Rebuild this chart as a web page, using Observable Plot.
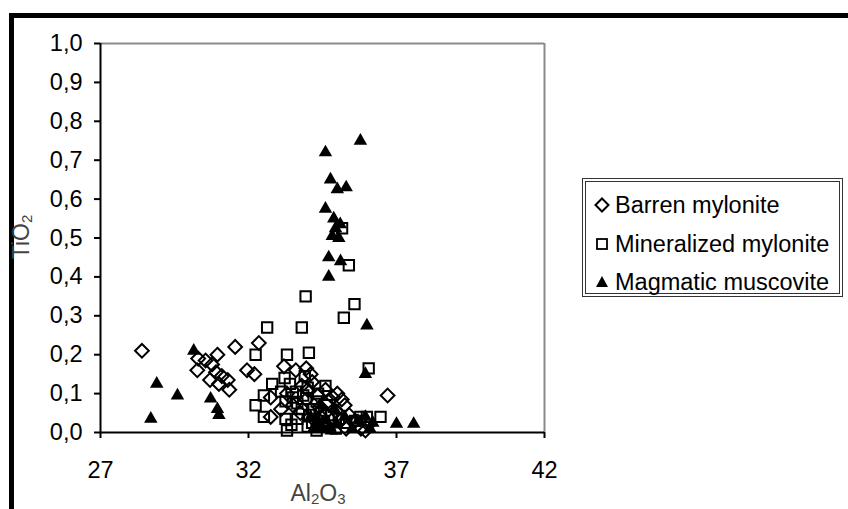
<!DOCTYPE html>
<html><head><meta charset="utf-8">
<script src="https://cdn.jsdelivr.net/npm/d3@7"></script>
<script src="https://cdn.jsdelivr.net/npm/@observablehq/plot@0.6"></script>
<style>
body{margin:0;background:#fff;}
#wrap{position:relative;width:848px;height:509px;overflow:hidden;font-family:"Liberation Sans",Arial,sans-serif;background:#fff;}
#border{position:absolute;left:9px;top:13px;width:900px;height:600px;border-top:5px solid #000;border-left:5px solid #000;}
#chart{position:absolute;left:0;top:0;}
.title{position:absolute;color:#444;font-size:23px;white-space:nowrap;}
.title sub{font-size:15px;vertical-align:-3px;line-height:0;}
#xt{left:318px;top:493px;transform:translate(-50%,-50%);}
#yt{left:21px;top:237px;transform:translate(-50%,-50%) rotate(-90deg);}
#legend{position:absolute;left:582px;top:178px;width:253px;height:111px;border:4px double #333;}
.item{position:absolute;left:8px;height:24px;display:flex;align-items:center;font-size:23.5px;color:#000;white-space:nowrap;}
.item svg{margin-right:5px;}
</style>
</head><body>
<div id="wrap">
  <div id="border"></div>
  <div id="chart"></div>
  <div class="title" id="xt">Al<sub>2</sub>O<sub>3</sub></div>
  <div class="title" id="yt">TiO<sub>2</sub></div>
  <div id="legend">
    <div class="item" style="top:11px"><svg width="16" height="16"><path d="M8,1.5L14.5,8L8,14.5L1.5,8Z" fill="none" stroke="#000" stroke-width="2"/></svg>Barren mylonite</div>
    <div class="item" style="top:50px"><svg width="16" height="16"><rect x="3" y="3" width="10" height="10" fill="none" stroke="#000" stroke-width="1.8"/></svg>Mineralized mylonite</div>
    <div class="item" style="top:88px"><svg width="16" height="16"><path d="M8,2L14,13L2,13Z" fill="#000"/></svg>Magmatic muscovite</div>
  </div>
</div>
<script>
// Axis ticks
const xTicks = [27, 32, 37, 42];
const yTicks = [0, 0.1, 0.2, 0.3, 0.4, 0.5, 0.6, 0.7, 0.8, 0.9, 1.0];

// Barren mylonite (Al2O3, TiO2)
const barrenAl = [28.4, 31.55, 32.35, 30.95, 30.55, 30.3, 30.77, 30.27, 30.9, 31.1, 30.7, 31.3, 31.0, 31.35, 31.95, 32.2, 33.2, 32.75, 32.75, 36.7,
  33.6, 33.95, 34.15, 34.35, 34.6, 34.85, 35.0, 35.15, 35.25, 34.95, 34.6, 34.25, 33.75, 33.5, 33.95, 34.5, 35.3, 35.8, 36.05, 35.6, 35.4, 33.3, 33.1, 34.0, 34.4, 35.95,
  34.1, 34.7, 33.8, 34.45, 35.1];
const barrenTi = [0.21, 0.22, 0.23, 0.20, 0.185, 0.19, 0.175, 0.16, 0.155, 0.145, 0.135, 0.135, 0.125, 0.11, 0.16, 0.15, 0.17, 0.09, 0.04, 0.095,
  0.16, 0.165, 0.13, 0.095, 0.11, 0.09, 0.10, 0.085, 0.07, 0.055, 0.05, 0.03, 0.05, 0.07, 0.085, 0.02, 0.01, 0.01, 0.02, 0.03, 0.045, 0.10, 0.06, 0.11, 0.065, 0.005,
  0.15, 0.08, 0.12, 0.04, 0.03];

// Mineralized mylonite
const minerAl = [32.63, 33.93, 33.8, 35.58, 35.22, 35.39, 35.16, 32.24, 33.3, 34.04, 36.06, 32.8, 32.52, 32.24, 32.52, 33.25, 33.25, 33.3, 36.46, 35.78,
  33.22, 33.4, 33.6, 33.65, 33.8, 34.05, 33.65, 34.0, 34.55, 34.8, 34.65, 34.3, 34.0, 34.35, 33.45, 34.3, 34.95, 35.3, 35.6, 36.0, 33.1, 33.9, 34.6, 35.05, 34.2,
  33.5, 34.15, 33.85, 34.45];
const minerTi = [0.27, 0.35, 0.27, 0.33, 0.295, 0.43, 0.525, 0.20, 0.20, 0.205, 0.165, 0.125, 0.095, 0.07, 0.04, 0.035, 0.08, 0.005, 0.04, 0.04,
  0.14, 0.125, 0.105, 0.075, 0.06, 0.045, 0.035, 0.015, 0.03, 0.045, 0.07, 0.08, 0.115, 0.10, 0.02, 0.005, 0.01, 0.025, 0.03, 0.04, 0.105, 0.145, 0.12, 0.035, 0.06,
  0.09, 0.025, 0.095, 0.05];

// Magmatic muscovite
const magmaAl = [28.7, 28.9, 29.6, 30.15, 30.72, 30.95, 31.0, 35.78, 34.6, 34.77, 35.0, 35.3, 34.6, 34.88, 34.94, 34.83, 35.05, 35.1, 34.71, 35.11, 34.71,
  36.0, 35.95, 37.0, 37.58, 34.1, 34.3, 34.5, 34.8, 35.0, 35.25, 35.5, 35.7, 35.95, 36.2, 34.6, 34.9, 34.45, 36.1, 34.2, 34.75];
const magmaTi = [0.035, 0.125, 0.095, 0.21, 0.087, 0.06, 0.045, 0.75, 0.72, 0.65, 0.625, 0.63, 0.575, 0.55, 0.525, 0.505, 0.50, 0.535, 0.45, 0.44, 0.40,
  0.275, 0.15, 0.022, 0.022, 0.04, 0.02, 0.01, 0.005, 0.02, 0.04, 0.01, 0.03, 0.04, 0.025, 0.03, 0.06, 0.07, 0.01, 0.01, 0.015];

const rows = (al, ti) => al.map((a, i) => ({x: a, y: ti[i]}));
const barren = rows(barrenAl, barrenTi);
const miner = rows(minerAl, minerTi);
const magma = rows(magmaAl, magmaTi);

const fmt = d => d.toFixed(1).replace(".", ",");

const plot = Plot.plot({
  width: 848, height: 509,
  marginLeft: 100, marginRight: 304, marginTop: 43, marginBottom: 77,
  x: {domain: [27, 42]},
  y: {domain: [0, 1]},
  style: {fontFamily: "'Liberation Sans', Arial, sans-serif", fontSize: "23.5px", background: "transparent", color: "#000"},
  marks: [
    Plot.ruleY([1], {stroke: "#8a8a8a", strokeWidth: 2}),
    Plot.ruleX([42], {stroke: "#8a8a8a", strokeWidth: 2}),
    Plot.axisX({ticks: xTicks, tickSize: 6, tickPadding: 23, label: null, tickFormat: d => String(d), strokeWidth: 2}),
    Plot.axisY({ticks: yTicks, tickSize: 6, tickPadding: 12, label: null, tickFormat: fmt, strokeWidth: 2}),
    Plot.ruleY([0], {stroke: "#000", strokeWidth: 2}),
    Plot.ruleX([27], {stroke: "#000", strokeWidth: 2}),
    Plot.dot(barren, {x: "x", y: "y", symbol: "diamond2", r: 6.2, stroke: "#000", strokeWidth: 2, fill: "none"}),
    Plot.dot(miner, {x: "x", y: "y", symbol: "square2", r: 6.6, stroke: "#000", strokeWidth: 2, fill: "none"}),
    Plot.dot(magma, {x: "x", y: "y", symbol: "triangle", r: 5, fill: "#000", stroke: "none"})
  ]
});
document.getElementById("chart").appendChild(plot);
</script>
</body></html>
